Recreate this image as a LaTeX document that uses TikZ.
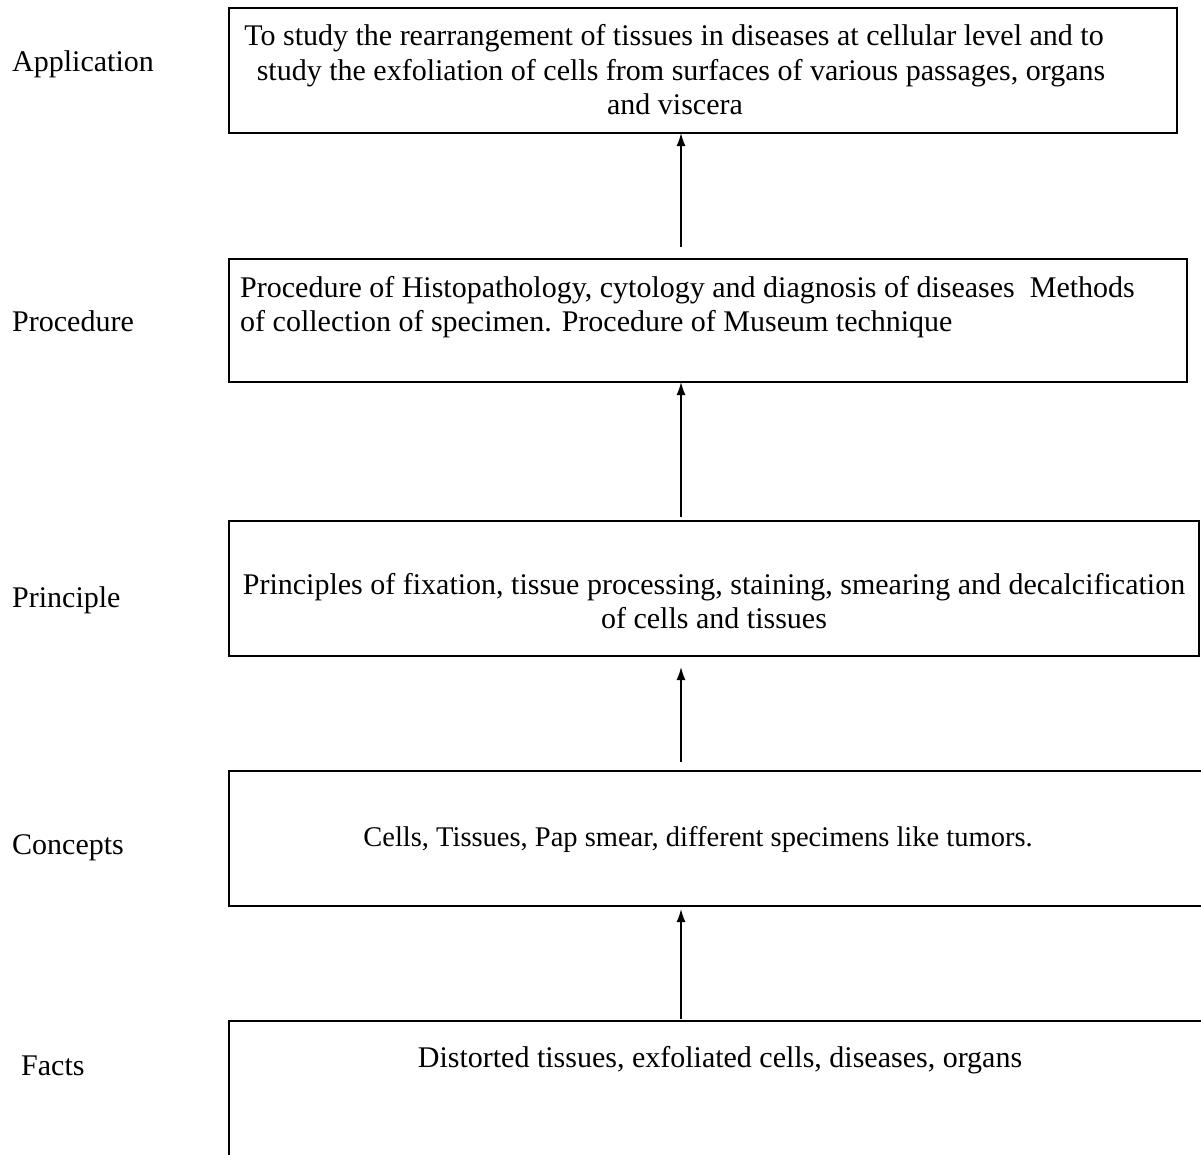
\documentclass[tikz,border=0pt]{standalone}
\usepackage{fontspec}
\setmainfont{Liberation Serif}
\usetikzlibrary{arrows.meta}
\begin{document}
\begin{tikzpicture}[x=1pt,y=-1pt,
  box/.style={draw,line width=1.9pt,rectangle,inner sep=0pt,outer sep=0pt,anchor=north west},
  txt/.style={inner sep=0pt,anchor=base,font=\fontsize{30}{34}\selectfont},
  txtl/.style={inner sep=0pt,anchor=base west,font=\fontsize{30}{34}\selectfont},
  lbl/.style={inner sep=0pt,anchor=base west,font=\fontsize{30}{34}\selectfont},
  arr/.style={line width=1.5pt,-{Latex[length=13pt,width=9pt]}}]
\fill[white] (0,0) rectangle (1201,1154);
\useasboundingbox (0,0) rectangle (1201,1154);
% boxes
\node[box,minimum width=948pt,minimum height=125pt] (b1) at (229,8) {};
\node[box,minimum width=958pt,minimum height=123pt] (b2) at (229,259) {};
\node[box,minimum width=970pt,minimum height=135pt] (b3) at (229,521) {};
\node[box,minimum width=995pt,minimum height=135pt] (b4) at (229,771) {};
\node[box,minimum width=995pt,minimum height=170pt] (b5) at (229,1021) {};
% box texts
\node[txt] (t1a) at (674,45) {To study the rearrangement of tissues in diseases at cellular level and to};
\node[txt] (t1b) at (681,80) {study the exfoliation of cells from surfaces of various passages, organs};
\node[txt] (t1c) at (675,114) {and viscera};
\node[txtl] (t2a) at (240,297) {Procedure of Histopathology, cytology and diagnosis of diseases\ \ Methods};
\node[txtl] (t2b) at (240,331) {of collection of specimen. Procedure of Museum technique};
\node[txt] (t3a) at (714,594) {Principles of fixation, tissue processing, staining, smearing and decalcification};
\node[txt] (t3b) at (714,628) {of cells and tissues};
\node[txt,font=\fontsize{28.5}{34}\selectfont] (t4) at (698,846) {Cells, Tissues, Pap smear, different specimens like tumors.};
\node[txt] (t5) at (720,1067) {Distorted tissues, exfoliated cells, diseases, organs};
% labels
\node[lbl] (l1) at (12,71) {Application};
\node[lbl] (l2) at (12,331) {Procedure};
\node[lbl] (l3) at (12,607) {Principle};
\node[lbl] (l4) at (12,854) {Concepts};
\node[lbl] (l5) at (21,1075) {Facts};
% arrows
\coordinate (ax) at (681,0);
\draw[arr,shorten <=12pt] (b2.north -| ax) -- (b1.south -| ax);
\draw[arr,shorten <=4pt] (b3.north -| ax) -- (b2.south -| ax);
\draw[arr,shorten <=9pt,shorten >=11pt] (b4.north -| ax) -- (b3.south -| ax);
\draw[arr,shorten <=2pt,shorten >=3pt] (b5.north -| ax) -- (b4.south -| ax);
\end{tikzpicture}
\end{document}
